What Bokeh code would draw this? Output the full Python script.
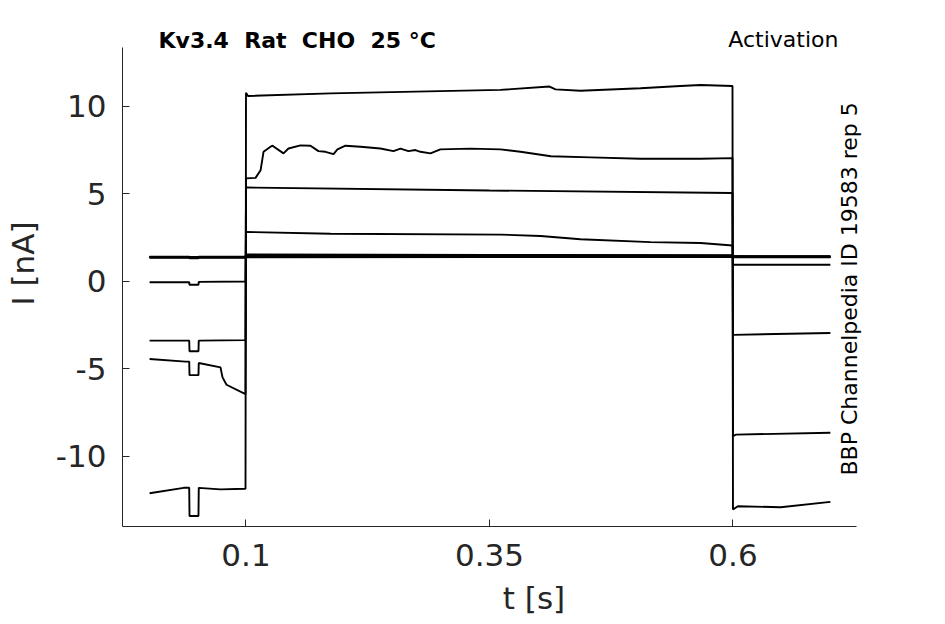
import math
from bokeh.plotting import figure
from bokeh.models import FixedTicker, Label
from bokeh.embed import file_html
from bokeh.resources import INLINE

# ---- data (time in s, current in nA) ----
tA = [0.001, 0.036, 0.0417, 0.042, 0.0512, 0.0515, 0.0738, 0.0995,
      0.1, 0.102, 0.1868, 0.3613, 0.4116, 0.4178, 0.4434, 0.505, 0.546, 0.5667, 0.5995,
      0.6, 0.605, 0.6489, 0.7]
iA = [-12.1, -11.79, -11.79, -13.4, -13.4, -11.79, -11.88, -11.84,
      10.78, 10.6, 10.75, 10.95, 11.14, 10.98, 10.9, 11.04, 11.17, 11.23, 11.17,
      -13.03, -12.84, -12.9, -12.59]

tB = [0.001, 0.0379, 0.0417, 0.042, 0.0512, 0.0515, 0.0738, 0.0759, 0.08, 0.0995,
      0.1, 0.1098, 0.115, 0.118, 0.1252, 0.1272, 0.1385, 0.1436, 0.156, 0.1662,
      0.1744, 0.1816, 0.1898, 0.1939, 0.2021, 0.2175, 0.238, 0.2514, 0.2586, 0.2668,
      0.274, 0.2791, 0.2894, 0.2996, 0.3304, 0.3613, 0.3818, 0.413, 0.4537, 0.505,
      0.5667, 0.5995,
      0.6, 0.603, 0.7]
iB = [-4.43, -4.58, -4.58, -5.35, -5.35, -4.66, -4.91, -5.48, -5.9, -6.44,
      5.89, 5.92, 6.36, 7.41, 7.7, 7.76, 7.32, 7.6, 7.78, 7.76,
      7.45, 7.41, 7.28, 7.55, 7.76, 7.7, 7.6, 7.45, 7.59, 7.45,
      7.51, 7.41, 7.32, 7.55, 7.59, 7.55, 7.41, 7.16, 7.09, 7.01,
      7.01, 7.05,
      -8.83, -8.75, -8.64]

tC = [0.001, 0.0417, 0.042, 0.0512, 0.0515, 0.0995,
      0.1, 0.35, 0.5995,
      0.6, 0.7]
iC = [-3.38, -3.38, -3.99, -3.99, -3.38, -3.35,
      5.37, 5.2, 5.06,
      -3.05, -2.94]

tD = [0.001, 0.0417, 0.042, 0.0512, 0.0515, 0.0995,
      0.1, 0.1868, 0.3613, 0.4024, 0.4434, 0.5154, 0.5667, 0.5995,
      0.6, 0.7]
iD = [-0.04, -0.04, -0.19, -0.19, -0.02, 0.0,
      2.83, 2.73, 2.68, 2.6, 2.41, 2.25, 2.2, 2.06,
      0.96, 0.96]

# bundle of small sweeps around 1.4 nA
tE = [0.001, 0.0417, 0.042, 0.0512, 0.0515, 0.0995,
      0.1, 0.35, 0.5995,
      0.6, 0.7]
iE1 = [1.40, 1.40, 1.36, 1.36, 1.40, 1.40, 1.52, 1.50, 1.48, 1.45, 1.44]
iE2 = [1.38, 1.38, 1.35, 1.35, 1.38, 1.38, 1.48, 1.47, 1.46, 1.42, 1.42]
iE3 = [1.42, 1.42, 1.40, 1.40, 1.42, 1.42, 1.45, 1.44, 1.43, 1.40, 1.40]
iE4 = [1.36, 1.36, 1.33, 1.33, 1.36, 1.36, 1.42, 1.41, 1.41, 1.38, 1.38]
iE5 = [1.40, 1.40, 1.38, 1.38, 1.40, 1.40, 1.38, 1.39, 1.40, 1.44, 1.43]
iE6 = [1.39, 1.39, 1.36, 1.36, 1.39, 1.39, 1.55, 1.52, 1.50, 1.41, 1.41]

x_ticks = [0.1, 0.35, 0.6]
x_tick_labels = {0.1: "0.1", 0.35: "0.35", 0.6: "0.6"}
y_ticks = [-10, -5, 0, 5, 10]
y_tick_labels = {-10: "-10", -5: "-5", 0: "0", 5: "5", 10: "10"}

title_text = "Kv3.4\u00a0 Rat\u00a0 CHO\u00a0 25 °C"
protocol_text = "Activation"
side_text = "BBP Channelpedia ID 19583 rep 5"

# axes extents (data units)
x_axis_bounds = (-0.0268, 0.7268)
y_axis_bounds = (-14.0, 13.37)

# ---- figure ----
p = figure(width=945, height=624, output_backend="svg", toolbar_location=None,
           x_range=(-0.0268, 0.8182), y_range=(-14.0, 16.056),
           min_border_left=122, min_border_right=0,
           min_border_top=0, min_border_bottom=98)
p.outline_line_color = None
p.grid.visible = False
p.background_fill_color = "white"
p.border_fill_color = "white"

traces = [(tA, iA), (tB, iB), (tC, iC), (tD, iD),
          (tE, iE1), (tE, iE2), (tE, iE3), (tE, iE4), (tE, iE5), (tE, iE6)]
for tt, ii in traces:
    p.line(tt, ii, line_color="black", line_width=1.9)

axis_col = "#262626"
for ax in (p.xaxis[0], p.yaxis[0]):
    ax.axis_line_color = axis_col
    ax.axis_line_width = 1
    ax.major_tick_in = 7
    ax.major_tick_out = 0
    ax.minor_tick_in = 0
    ax.minor_tick_out = 0
    ax.major_tick_line_color = axis_col
    ax.major_label_text_color = axis_col
    ax.major_label_text_font = "DejaVu Sans"
    ax.major_label_text_font_size = "31px"
    ax.axis_label_text_font = "DejaVu Sans"
    ax.axis_label_text_font_size = "31px"
    ax.axis_label_text_font_style = "normal"
    ax.axis_label_text_color = axis_col

p.xaxis.ticker = FixedTicker(ticks=x_ticks)
p.xaxis.major_label_overrides = x_tick_labels
p.yaxis.ticker = FixedTicker(ticks=y_ticks)
p.yaxis.major_label_overrides = y_tick_labels
p.xaxis.bounds = x_axis_bounds
p.yaxis.bounds = y_axis_bounds
p.xaxis.axis_label = "t [s]"
p.yaxis.axis_label = "I [nA]"
p.xaxis.major_label_standoff = 17
p.xaxis.axis_label_standoff = 11
p.yaxis.major_label_standoff = 16
p.yaxis.axis_label_standoff = 12

p.add_layout(Label(x=0.0102, y=13.79, text=title_text, text_font="DejaVu Sans",
                   text_font_style="bold", text_font_size="22px", text_color="black",
                   text_baseline="alphabetic", text_align="left"))
p.add_layout(Label(x=0.7083, y=13.83, text=protocol_text, text_font="DejaVu Sans",
                   text_font_size="22px", text_color="black",
                   text_baseline="alphabetic", text_align="right"))
p.add_layout(Label(x=0.7200, y=-0.42, text=side_text, text_font="DejaVu Sans",
                   text_font_size="22px", text_color="black", angle=math.pi / 2,
                   text_baseline="alphabetic", text_align="center"))

open("out.html", "w").write(file_html(p, INLINE))
